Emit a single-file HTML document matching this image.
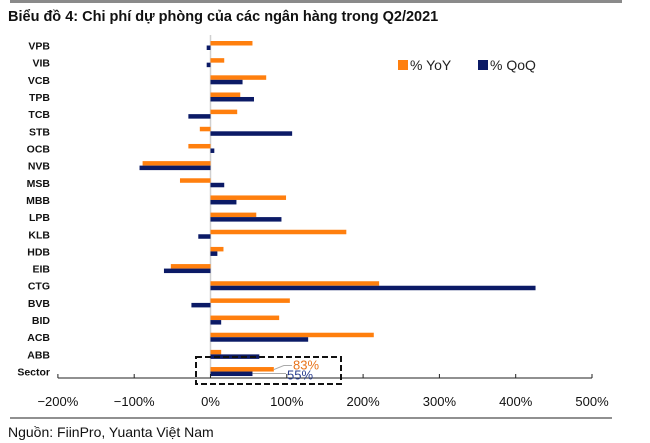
<!DOCTYPE html>
<html><head><meta charset="utf-8"><style>
body{margin:0;background:#fff;width:650px;height:443px;overflow:hidden;font-family:"Liberation Sans",sans-serif}
svg{position:absolute;left:0;top:0}
</style></head><body>
<svg width="650" height="443" id="chart">
<rect x="10" y="0" width="612" height="3" fill="#8a8a8a"/>
<text x="8" y="21" font-size="14.5" font-weight="bold" fill="#111">Biểu đồ 4: Chi phí dự phòng của các ngân hàng trong Q2/2021</text>
<g id="plot"></g>
<rect x="398" y="60" width="10" height="10" fill="#ff7f0e"/>
<text x="410" y="70" font-size="14" fill="#222">% YoY</text>
<rect x="478" y="60" width="10" height="10" fill="#0b1a66"/>
<text x="490" y="70" font-size="14" fill="#222">% QoQ</text>
<rect x="196" y="357" width="145" height="27" fill="none" stroke="#111" stroke-width="2" stroke-dasharray="6,3"/>
<line x1="10" y1="418" x2="612" y2="418" stroke="#222" stroke-width="1"/>
<text x="8" y="437" font-size="14" fill="#111">Nguồn: FiinPro, Yuanta Việt Nam</text>
</svg>
<script>
const categories=["VPB","VIB","VCB","TPB","TCB","STB","OCB","NVB","MSB","MBB","LPB","KLB","HDB","EIB","CTG","BVB","BID","ACB","ABB","Sector"];
const yoy=[55,18,73,39,35,-14,-29,-89,-40,99,60,178,17,-52,221,104,90,214,14,83];
const qoq=[-5,-5,42,57,-29,107,5,-93,18,34,93,-16,9,-61,426,-25,14,128,64,55];
const ticks=[-200,-100,0,100,200,300,400,500];
const NS="http://www.w3.org/2000/svg";
const g=document.getElementById('plot');
const x=v=>210.5+v*0.763;
const yc=i=>45.5+i*17.16;
function mk(t,a){const e=document.createElementNS(NS,t);for(const k in a)e.setAttribute(k,a[k]);g.appendChild(e);return e;}
const z=mk('line',{x1:x(0),y1:35,x2:x(0),y2:378,stroke:'#d0d0d0','stroke-width':1.5});


categories.forEach((c,i)=>{
  const t=mk('text',{x:50,y:yc(i)+4,'font-size':10.5,'font-weight':'bold','text-anchor':'end',fill:'#111'});
  t.textContent=c;
  
  
  const a=mk('rect',{x:Math.min(x(0),x(yoy[i])),y:yc(i)-4.5,width:Math.abs(x(yoy[i])-x(0)),height:4.5,fill:'#ff7f0e'});
  
  
  const b=mk('rect',{x:Math.min(x(0),x(qoq[i])),y:yc(i),width:Math.abs(x(qoq[i])-x(0)),height:4.5,fill:'#0b1a66'});
  
  
});
const ax=mk('line',{x1:x(-200),y1:378,x2:x(500),y2:378,stroke:'#222','stroke-width':1});


ticks.forEach(v=>{
  const l=mk('line',{x1:x(v),y1:374,x2:x(v),y2:378,stroke:'#222'});
  
  
  const t=mk('text',{x:x(v),y:406,'font-size':13,'text-anchor':'middle',fill:'#111'});
  t.textContent=(v<0?'\u2212':'')+Math.abs(v)+'%';
  
  
});
const si=categories.length-1;
const l1=mk('polyline',{points:`${x(yoy[si])},${yc(si)-2} ${x(yoy[si])+10},${yc(si)-6} 292,${yc(si)-6}`,fill:'none',stroke:'#aaa'});


const l2=mk('line',{x1:x(qoq[si]),y1:yc(si)+2,x2:286,y2:yc(si)+2,stroke:'#aaa'});


const v1=mk('text',{x:293,y:yc(si)-2,'font-size':13,fill:'#e8731a'});
v1.textContent=yoy[si]+'%';


const v2=mk('text',{x:287,y:yc(si)+8,'font-size':13,fill:'#2b3f8f'});
v2.textContent=qoq[si]+'%';


</script>
</body></html>
